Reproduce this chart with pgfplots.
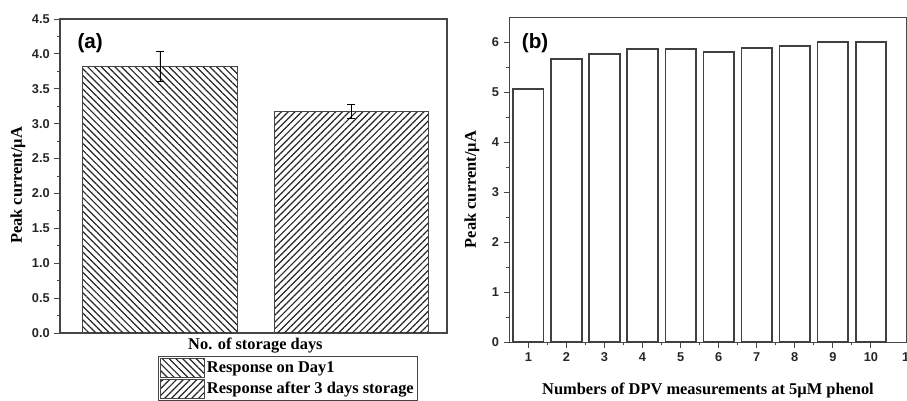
\documentclass[border=0pt]{standalone}
\usepackage{fontspec}
\setmainfont{Liberation Serif}
\setsansfont{Liberation Sans}
\usepackage{pgfplots}
\pgfplotsset{compat=1.18}
\usetikzlibrary{patterns.meta}
\definecolor{axgray}{RGB}{70,70,70}
\newcommand{\labfont}{\bfseries\fontsize{12.3}{14}\selectfont}
\newcommand{\tickfont}{\sffamily\bfseries\fontsize{9.6}{11}\selectfont}
\pgfplotsset{
  common/.style={
    scale only axis,
    anchor=south west,
    axis line style={axgray, line width=0.8pt},
    tick pos=left,
    tick align=outside,
    major tick length=4.2pt,
    minor tick length=2.3pt,
    every tick/.style={axgray, line width=0.7pt},
    /pgf/number format/assume math mode=true,
    tick label style={font=\tickfont, text=black!85},
    every axis y label/.style={at={(axis description cs:#1,0.47)}, rotate=90, anchor=center, font=\labfont},
  },
  hatchleg/.style={legend image code/.code={\draw[##1, draw=axgray, line width=0.5pt] (0pt,-7pt) rectangle (33pt,7pt);}},
}
\begin{document}
\begin{tikzpicture}
% Panel (a)
\begin{axis}[common=-0.1085,
  at={(45pt,50.25pt)},
  width=290.25pt, height=235.5pt,
  xmin=0.478, xmax=2.5,
  ymin=0, ymax=4.5,
  xtick=\empty,
  ytick={0,0.5,...,4.5},
  minor y tick num=1,
  yticklabel style={/pgf/number format/.cd, fixed, fixed zerofill, precision=1},
  xlabel={No. of storage days},
  every axis x label/.style={at={(axis description cs:0.505,-0.04)}, anchor=center, font=\labfont},
  ylabel={Peak current/\textmu A},
  clip=false,
  legend style={draw=axgray, line width=0.6pt, at={(axis description cs:0.253,-0.072)}, anchor=north west,
    font=\labfont, inner sep=1.5pt, row sep=1.5pt,
    nodes={inner sep=1.5pt}},
  legend cell align=left,
]
\addplot[ybar, bar width=0.805, bar shift=0pt, draw=axgray, line width=0.6pt,
  pattern={Lines[angle=-45,distance=3.6pt,line width=0.9pt]}, pattern color=black!85,
  hatchleg,
  error bars/.cd, y dir=both, y explicit,
  error bar style={black, line width=0.6pt},
  error mark options={rotate=90, mark size=3pt, line width=0.6pt, black}]
  coordinates {(1,3.82) +- (0,0.22)};
\addlegendentry{Response on Day1}
\addplot[ybar, bar width=0.805, bar shift=0pt, draw=axgray, line width=0.6pt,
  pattern={Lines[angle=45,distance=3.6pt,line width=0.9pt]}, pattern color=black!85,
  hatchleg,
  error bars/.cd, y dir=both, y explicit,
  error bar style={black, line width=0.6pt},
  error mark options={rotate=90, mark size=3pt, line width=0.6pt, black}]
  coordinates {(2,3.175) +- (0,0.095)};
\addlegendentry{Response after 3 days storage}
\node[font=\sffamily\bfseries\fontsize{15.5}{17}\selectfont] at (axis description cs:0.078,0.924) {(a)};
\end{axis}
% Panel (b)
\begin{axis}[common=-0.094,
  at={(382pt,43.275pt)},
  width=298pt, height=243.75pt,
  xmin=0.5, xmax=10.94,
  ymin=0, ymax=6.5,
  xtick={1,...,10},
  minor x tick num=1,
  ytick={0,...,6},
  minor y tick num=1,
  xlabel={Numbers of DPV measurements at 5\textmu M phenol},
  every axis x label/.style={at={(axis description cs:0.5,-0.147)}, anchor=center, font=\labfont},
  ylabel={Peak current/\textmu A},
  clip=false,
]
\addplot[ybar, bar width=0.8, bar shift=0pt, draw=black!75, line width=1.3pt, fill=white]
  coordinates {(1,5.07) (2,5.66) (3,5.77) (4,5.86) (5,5.87) (6,5.81) (7,5.88) (8,5.93) (9,6.0) (10,6.0)};
\node[font=\sffamily\bfseries\fontsize{15.5}{17}\selectfont] at (axis description cs:0.065,0.921) {(b)};
\node[font=\tickfont, text=black!85, anchor=north, inner sep=3.333pt] at ([yshift=-4.2pt]axis cs:11,0) {11};
\end{axis}
\pgfresetboundingbox
\path[use as bounding box] (0,0) rectangle (680.25pt,300pt);
\end{tikzpicture}
\end{document}
